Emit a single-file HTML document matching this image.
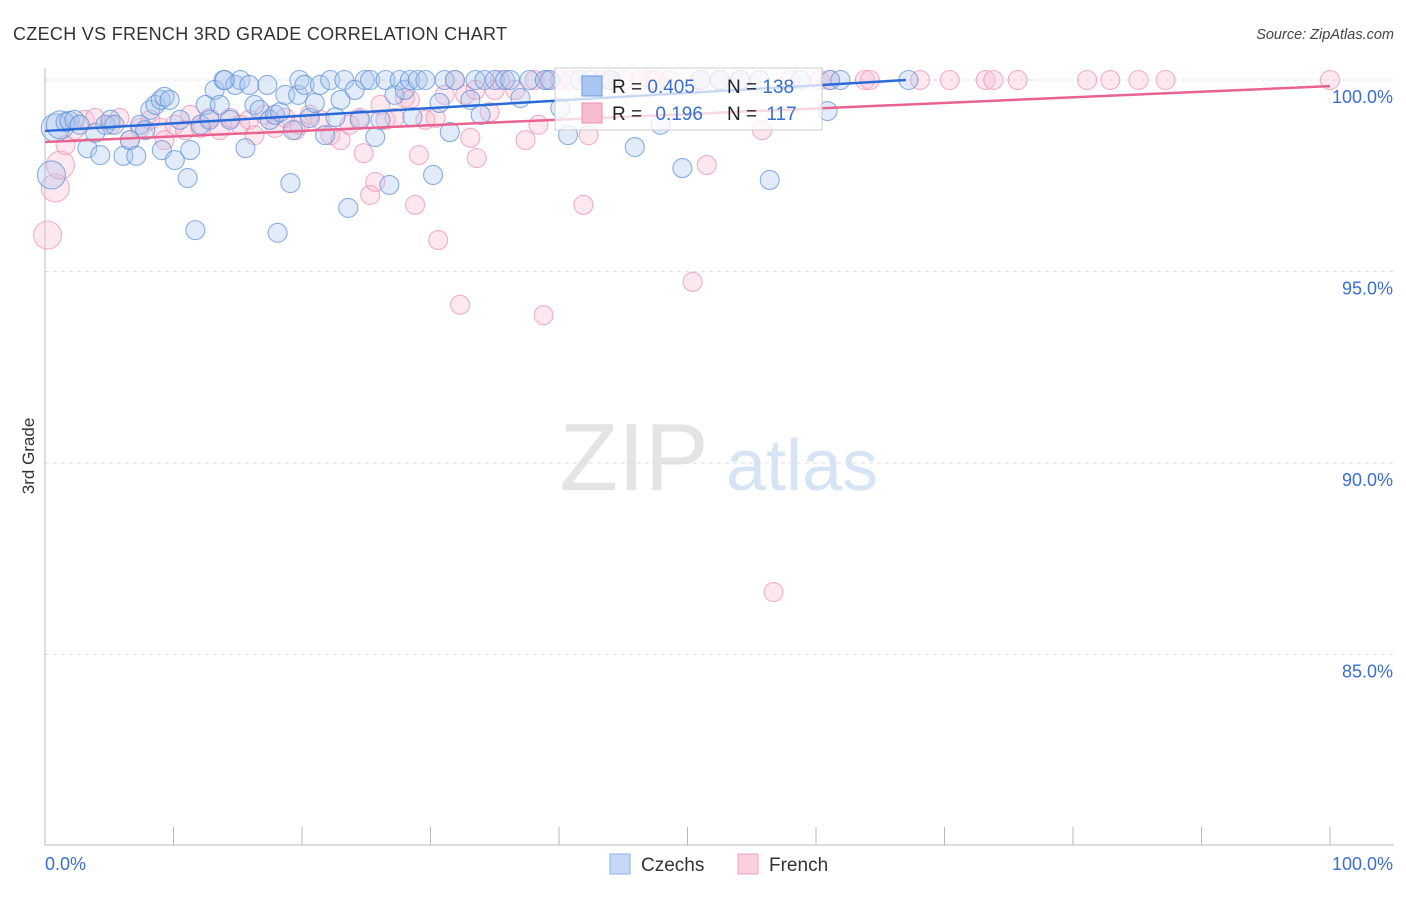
<!DOCTYPE html>
<html><head><meta charset="utf-8"><style>
body{margin:0;background:#fff;font-family:"Liberation Sans",sans-serif;}
svg text{font-family:"Liberation Sans",sans-serif;}
</style></head><body>
<svg id="chart" width="1406" height="892" viewBox="0 0 1406 892">
<text x="13" y="40" font-size="18" fill="#333" letter-spacing="0.3">CZECH VS FRENCH 3RD GRADE CORRELATION CHART</text>
<text x="1394" y="39" font-size="14.5" fill="#444" text-anchor="end" font-style="italic">Source: ZipAtlas.com</text>
<text transform="translate(34,456) rotate(-90)" font-size="17" fill="#333" text-anchor="middle">3rd Grade</text>
<g>
<text x="634" y="490" font-size="96" fill="#e4e4e4" font-family="Liberation Serif" text-anchor="middle">ZIP</text>
<text x="802" y="490" font-size="72" fill="#d6e4f5" text-anchor="middle">atlas</text>
</g>
<g id="grid"></g>
<g id="axes"></g>
<g id="pts"></g>
<g id="trends"></g>
<g>
<rect x="555" y="68" width="267" height="62" fill="#fff" fill-opacity="0.75" stroke="#ccc"/>
<rect x="582" y="76" width="20" height="20" fill="#a9c6ee" stroke="#6b9be0"/>
<rect x="582" y="103" width="20" height="20" fill="#f8bcd0" stroke="#ee8fb0"/>
<text x="612" y="93" font-size="19" fill="#222">R = <tspan fill="#3a6fd0">0.405</tspan></text>
<text x="727" y="93" font-size="19" fill="#222">N = <tspan fill="#3a6fd0">138</tspan></text>
<text x="612" y="120" font-size="19" fill="#222">R = <tspan fill="#3a6fd0" dx="8">0.196</tspan></text>
<text x="727" y="120" font-size="19" fill="#222">N = <tspan fill="#3a6fd0" dx="4">117</tspan></text>
</g>
<g>
<rect x="610" y="854" width="20" height="20" fill="#c4d8f5" stroke="#8db2e8"/>
<text x="641" y="871" font-size="19" fill="#333">Czechs</text>
<rect x="738" y="854" width="20" height="20" fill="#fbd0de" stroke="#f0a3bd"/>
<text x="769" y="871" font-size="19" fill="#333">French</text>
</g>
</svg>
<script>
const yTicks=[100,95,90,85];
const yTickLabels=["100.0%","95.0%","90.0%","85.0%"];
const xTicks=[0,10,20,30,40,50,60,70,80,90,100];
const blueX=[0.5,0.8,1.2,1.6,1.9,2.3,2.7,3.3,3.9,4.3,4.7,5.1,5.4,6.1,6.6,7.1,7.4,7.8,8.2,8.6,9.0,9.3,9.7,9.1,10.1,10.5,11.1,11.3,11.7,12.1,12.5,12.8,13.2,13.6,13.9,14.4,14.8,15.2,15.6,15.9,16.3,16.7,17.3,17.5,17.9,18.3,18.7,19.1,19.3,19.7,19.8,20.2,20.6,21.0,21.4,21.8,22.2,22.6,23.0,23.3,23.6,24.1,24.5,24.9,25.3,25.7,26.1,26.5,26.8,27.2,27.6,28.0,28.4,28.6,29.0,29.6,30.2,30.7,31.1,31.5,31.9,33.1,33.5,33.9,34.2,35.0,35.8,36.2,37.0,37.7,38.9,39.3,40.1,40.7,41.6,42.4,44.0,45.9,47.9,49.6,51.0,52.5,54.1,55.6,56.4,58.8,61.1,61.9,60.9,67.2,18.1,14.0];
const blueY=[97.52,98.75,98.83,98.90,98.93,98.96,98.83,98.22,98.62,98.04,98.83,98.96,98.83,98.02,98.43,98.02,98.83,98.69,99.22,99.35,99.48,99.56,99.48,98.17,97.91,98.96,97.44,98.17,96.08,98.83,99.35,98.96,99.74,99.35,100,98.96,99.87,100,98.22,99.87,99.35,99.22,99.87,98.96,99.09,99.16,99.61,97.31,98.69,99.61,100,99.87,99.01,99.40,99.87,98.56,100,99.03,99.48,100,96.66,99.74,98.96,100,100,98.51,98.96,100,97.26,99.61,100,99.74,100,99.03,100,100,97.52,99.40,100,98.64,100,99.48,100,99.09,100,100,100,100,99.53,100,100,100,99.27,98.56,100,100,100,98.25,98.83,97.70,100,100,100,100,97.39,100,100,100,99.19,100,96.01,100];
const pinkX=[0.2,0.8,1.2,1.6,2.3,3.1,3.9,5.1,5.8,6.6,7.4,8.2,9.0,9.3,10.1,10.9,11.3,12.1,12.8,13.6,14.4,15.2,15.9,16.3,17.1,17.9,18.7,19.5,19.8,20.6,21.4,22.2,23.0,23.7,24.5,24.8,25.3,25.7,26.1,26.5,27.2,28.0,28.4,28.8,29.1,29.6,30.4,30.6,31.1,31.9,32.3,32.7,33.1,33.5,33.6,34.6,35.0,35.4,36.6,37.4,38.1,38.4,38.8,39.1,40.1,40.9,41.9,42.3,43.2,44.0,45.1,46.3,47.1,47.5,48.6,50.4,51.0,51.5,52.5,54.1,55.8,56.7,58.0,60.3,61.1,63.8,64.2,68.1,70.4,73.2,73.8,75.7,81.1,82.9,85.1,87.2,100];
const pinkY=[95.95,97.18,97.78,98.30,98.69,98.96,99.01,98.83,99.01,98.43,98.75,98.96,98.75,98.43,98.83,98.69,99.09,98.75,99.01,98.69,99.01,98.83,98.96,98.56,99.09,98.75,99.01,98.69,98.83,99.09,98.96,98.56,98.43,98.83,99.01,98.09,97.00,97.34,99.35,98.96,99.01,99.53,99.48,96.74,98.04,98.96,99.01,95.82,99.61,100,94.13,99.61,98.49,99.74,97.96,99.16,99.74,100,99.74,98.43,100,98.83,93.86,100,100,100,96.74,98.56,100,100,100,100,100,100,100,94.73,100,97.78,100,100,98.69,86.63,100,100,100,100,100,100,100,100,100,100,100,100,100,100,100];
const bigIdx=[0,1,2];
const blueTrend=[[0,98.67],[67,100]];
const pinkTrend=[[0,98.38],[100,99.84]];
const NS="http://www.w3.org/2000/svg";
const xS=v=>45+v*12.85, yS=v=>80+(100-v)*38.3;
function mk(tag,attrs,parent){const e=document.createElementNS(NS,tag);for(const k in attrs)e.setAttribute(k,attrs[k]);parent.appendChild(e);return e;}
const grid=document.getElementById('grid'),axes=document.getElementById('axes'),pts=document.getElementById('pts'),tr=document.getElementById('trends');
yTicks.forEach((t,i)=>{
 const l=mk('line',{x1:45,x2:1394,y1:yS(t),y2:yS(t),stroke:'#ddd','stroke-dasharray':'4,4'},grid);
 
 
 const tx=mk('text',{x:1393,y:yS(t)+23,'font-size':18,fill:'#3a6fd0','text-anchor':'end'},axes);
 tx.textContent=yTickLabels[i];
 
 
});
const ya=mk('line',{x1:45,x2:45,y1:68,y2:845,stroke:'#bbb'},axes);


const xa=mk('line',{x1:45,x2:1394,y1:845,y2:845,stroke:'#bbb'},axes);


xTicks.forEach(t=>{
 const l=mk('line',{x1:xS(t),x2:xS(t),y1:827,y2:845,stroke:'#bbb'},axes);
 
 
});
const xl0=mk('text',{x:45,y:870,'font-size':18,fill:'#3a6fd0'},axes);xl0.textContent='0.0%';


const xl1=mk('text',{x:1393,y:870,'font-size':18,fill:'#3a6fd0','text-anchor':'end'},axes);xl1.textContent='100.0%';


function draw(xs,ys,fill,stroke,name){
 xs.forEach((x,i)=>{
  const r=bigIdx.includes(i)?14:9.5;
  const c=mk('circle',{cx:xS(x),cy:yS(ys[i]),r:r,fill:fill,'fill-opacity':0.35,stroke:stroke,'stroke-opacity':0.7,'stroke-width':1.1},pts);
  
  
 });
}
draw(pinkX,pinkY,'#f8bcd0','#ee8fb0','french-point');
draw(blueX,blueY,'#a9c6ee','#5b8fdc','czech-point');
const bt=mk('line',{x1:xS(blueTrend[0][0]),y1:yS(blueTrend[0][1]),x2:xS(blueTrend[1][0]),y2:yS(blueTrend[1][1]),stroke:'#2a6ad8','stroke-width':2.5},tr);


const pt=mk('line',{x1:xS(pinkTrend[0][0]),y1:yS(pinkTrend[0][1]),x2:xS(pinkTrend[1][0]),y2:yS(pinkTrend[1][1]),stroke:'#e8638f','stroke-width':2.5},tr);


</script>
</body></html>
